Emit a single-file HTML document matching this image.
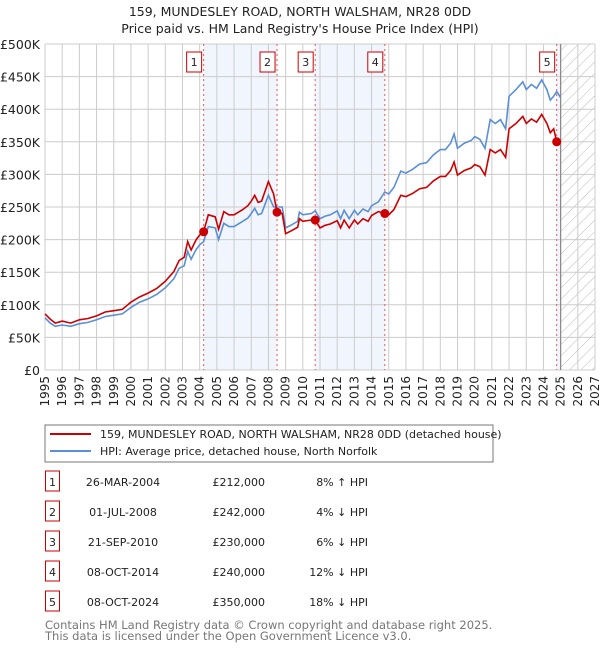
<!DOCTYPE html>
<html><head><meta charset="utf-8"><style>
body{margin:0;width:600px;height:650px;background:#fff;font-family:"Liberation Sans","DejaVu Sans",sans-serif;overflow:hidden}
svg text{font-family:"DejaVu Sans","Liberation Sans",sans-serif}
</style></head><body>
<svg id="c" width="600" height="650" xmlns="http://www.w3.org/2000/svg">
<defs><pattern id="hatch" width="8" height="8" patternUnits="userSpaceOnUse" patternTransform="rotate(45)"><line x1="0" y1="0" x2="0" y2="8" stroke="#bbb" stroke-width="1"/></pattern></defs>
<text x="300" y="16" text-anchor="middle" font-size="12.5" fill="#222">159, MUNDESLEY ROAD, NORTH WALSHAM, NR28 0DD</text>
<text x="300" y="33" text-anchor="middle" font-size="12.5" fill="#222">Price paid vs. HM Land Registry's House Price Index (HPI)</text>
<g id="plot"></g>
<rect x="45" y="425" width="448" height="37" fill="#fff" stroke="#777"/>
<line x1="50" y1="434" x2="91" y2="434" stroke="#cc0000" stroke-width="2"/>
<text x="100" y="438" font-size="11" fill="#222">159, MUNDESLEY ROAD, NORTH WALSHAM, NR28 0DD (detached house)</text>
<line x1="50" y1="451" x2="91" y2="451" stroke="#5b8fd6" stroke-width="2"/>
<text x="100" y="455" font-size="11" fill="#222">HPI: Average price, detached house, North Norfolk</text>
<g id="table" font-size="11" fill="#222"></g>
<text x="45" y="629" font-size="11.5" fill="#777">Contains HM Land Registry data © Crown copyright and database right 2025.</text>
<text x="45" y="640" font-size="11.5" fill="#777">This data is licensed under the Open Government Licence v3.0.</text>
</svg>
<script>
const years=[1995.0,1995.3,1995.6,1996.0,1996.5,1997.0,1997.5,1998.0,1998.5,1999.0,1999.5,2000.0,2000.5,2001.0,2001.5,2002.0,2002.5,2002.8,2003.1,2003.3,2003.5,2003.8,2004.0,2004.23,2004.5,2004.9,2005.1,2005.4,2005.7,2006.0,2006.5,2006.8,2007.0,2007.2,2007.4,2007.6,2008.0,2008.3,2008.5,2008.8,2009.0,2009.3,2009.7,2009.8,2010.0,2010.5,2010.72,2011.0,2011.3,2011.6,2012.0,2012.2,2012.4,2012.7,2013.0,2013.2,2013.5,2013.8,2014.0,2014.4,2014.77,2015.0,2015.3,2015.7,2016.0,2016.4,2016.8,2017.2,2017.6,2018.0,2018.3,2018.6,2018.8,2019.0,2019.4,2019.8,2020.0,2020.3,2020.6,2020.9,2021.2,2021.5,2021.8,2022.0,2022.4,2022.8,2023.0,2023.3,2023.6,2023.9,2024.2,2024.4,2024.6,2024.77,2025.0];
const hpi=[80,72,67,69,67,71,73,77,82,84,86,96,104,109,116,126,140,156,160,182,170,185,192,197,220,218,200,225,220,220,228,233,240,248,238,240,268,250,250,250,218,222,228,242,238,240,244,232,236,238,244,232,245,232,245,238,247,243,252,258,273,270,280,305,302,308,316,318,330,338,338,348,362,340,348,352,358,354,340,384,378,384,370,420,430,442,430,438,432,445,430,414,420,427,418];
const priceSeries=[86,78,72,75,72,77,79,83,89,91,93,104,112,118,125,136,151,168,173,197,184,200,207,212,238,235,216,243,238,238,246,252,259,268,257,259,289,270,242,240,209,213,219,232,228,230,230,218,222,224,229,218,230,218,230,224,232,228,237,243,240,238,246,268,266,271,278,280,290,297,297,306,319,299,306,310,315,312,299,338,333,338,326,370,378,389,378,385,380,392,378,364,370,350];
const saleYears=[2004.23,2008.5,2010.72,2014.77,2024.77];
const salePrices=[212,242,230,240,350];
const saleDates=["26-MAR-2004","01-JUL-2008","21-SEP-2010","08-OCT-2014","08-OCT-2024"];
const salePriceLabels=["£212,000","£242,000","£230,000","£240,000","£350,000"];
const saleHpiLabels=["8% ↑ HPI","4% ↓ HPI","6% ↓ HPI","12% ↓ HPI","18% ↓ HPI"];
const yTicks=[0,50,100,150,200,250,300,350,400,450,500];
const yTickLabels=["£0","£50K","£100K","£150K","£200K","£250K","£300K","£350K","£400K","£450K","£500K"];
const xTicks=[1995,1996,1997,1998,1999,2000,2001,2002,2003,2004,2005,2006,2007,2008,2009,2010,2011,2012,2013,2014,2015,2016,2017,2018,2019,2020,2021,2022,2023,2024,2025,2026,2027];
const x0=45,x1=595,yTop=44,yBot=370,xmin=1995,xmax=2027,ymax=500,forecastStart=2025;
const X=v=>x0+(v-xmin)/(xmax-xmin)*(x1-x0);
const Y=v=>yBot-v/ymax*(yBot-yTop);
const NS="http://www.w3.org/2000/svg";
const g=document.getElementById('plot');
function mk(tag,attrs,parent){const e=document.createElementNS(NS,tag);for(const k in attrs)e.setAttribute(k,attrs[k]);(parent||g).appendChild(e);return e;}
// shaded spans between sales
for(let i=0;i<saleYears.length;i+=2){
  const end=i+1<saleYears.length?saleYears[i+1]:forecastStart;
  const r=mk('rect',{x:X(saleYears[i]),y:yTop,width:X(end)-X(saleYears[i]),height:yBot-yTop,fill:'#eef3fc',opacity:0.8});
  
  
}
const hr=mk('rect',{x:X(forecastStart),y:yTop,width:X(xmax)-X(forecastStart),height:yBot-yTop,fill:'url(#hatch)'});


xTicks.forEach((t,i)=>{
  const l=mk('line',{x1:X(t),x2:X(t),y1:yTop,y2:yBot,stroke:'#ccc','stroke-width':1});
  
  
  const tx=mk('text',{x:0,y:0,'font-size':12,fill:'#222','text-anchor':'end',transform:`translate(${X(t)+4},${yBot+6}) rotate(-90)`});
  tx.textContent=t;
  
  
});
yTicks.forEach((t,i)=>{
  const l=mk('line',{x1:x0,x2:x1,y1:Y(t),y2:Y(t),stroke:'#ccc','stroke-width':1});
  
  
  const tx=mk('text',{x:40,y:Y(t)+5,'font-size':12.5,fill:'#222','text-anchor':'end'});
  tx.textContent=yTickLabels[i];
  
  
});
const fl=mk('line',{x1:X(forecastStart),x2:X(forecastStart),y1:yTop,y2:yBot,stroke:'#888','stroke-width':1.2});


saleYears.forEach((s,i)=>{
  const l=mk('line',{x1:X(s),x2:X(s),y1:yTop,y2:yBot,stroke:'#e55','stroke-width':1,'stroke-dasharray':'2,3'});
  
  
});
let d=years.map((y,i)=>(i?'L':'M')+X(y).toFixed(1)+','+Y(hpi[i]).toFixed(1)).join('');
const hp=mk('path',{d:d,fill:'none',stroke:'#5b8fd6','stroke-width':1.6});


d=priceSeries.map((v,i)=>(i?'L':'M')+X(years[i]).toFixed(1)+','+Y(v).toFixed(1)).join('');
const pp=mk('path',{d:d,fill:'none',stroke:'#cc0000','stroke-width':1.6});


saleYears.forEach((s,i)=>{
  const c=mk('circle',{cx:X(s),cy:Y(salePrices[i]),r:4.5,fill:'#cc0000'});
  
  
  const b=mk('rect',{x:X(s)-17,y:52,width:15,height:20,fill:'#fff',stroke:'#cc0000','stroke-width':1});
  
  
  const t=mk('text',{x:X(s)-9.5,y:66,'font-size':11,fill:'#222','text-anchor':'middle'});
  t.textContent=i+1;
  
  
});
const tb=document.getElementById('table');
saleYears.forEach((s,i)=>{
  const yy=483+i*30;
  const b=mk('rect',{x:45.5,y:yy-12,width:14,height:20,fill:'#fff',stroke:'#cc0000','stroke-width':1},tb);
  
  
  const n=mk('text',{x:52.5,y:yy+3,'text-anchor':'middle'},tb);n.textContent=i+1;
  
  
  const a=mk('text',{x:123,y:yy+3,'text-anchor':'middle'},tb);a.textContent=saleDates[i];
  
  
  const p=mk('text',{x:265,y:yy+3,'text-anchor':'end'},tb);p.textContent=salePriceLabels[i];
  
  
  const h=mk('text',{x:368,y:yy+3,'text-anchor':'end'},tb);h.textContent=saleHpiLabels[i];
  
  
});
</script>
</body></html>
